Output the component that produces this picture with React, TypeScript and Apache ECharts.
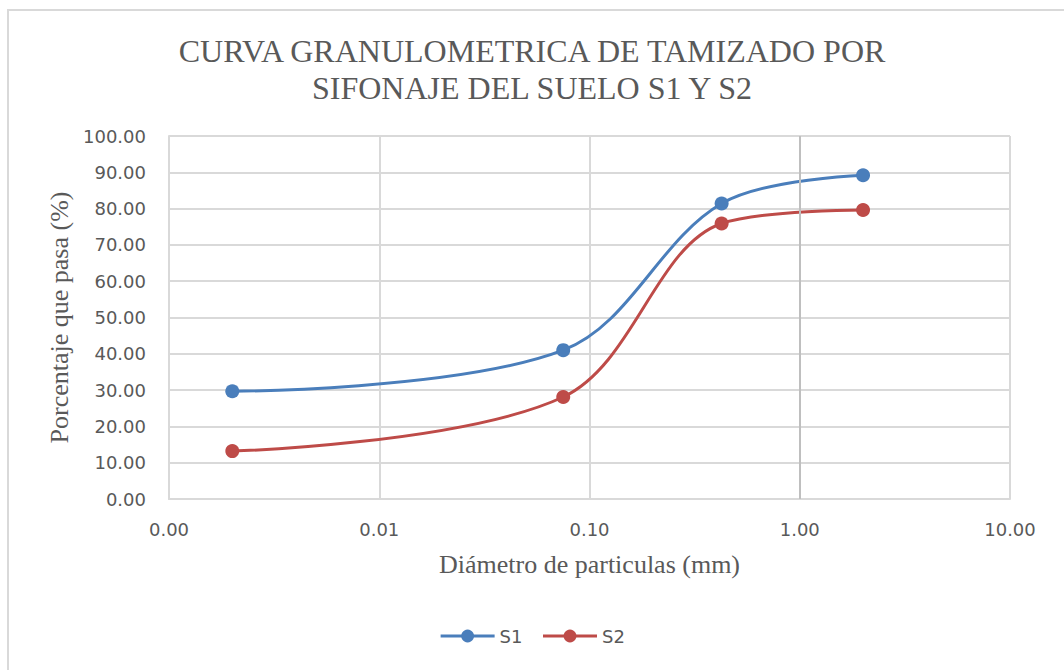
import React, { useEffect, useRef } from "react";
import * as echarts from "echarts";

const diameters = [0.002, 0.075, 0.425, 2.0];
const s1Values = [29.7, 41.0, 81.4, 89.2];
const s2Values = [13.2, 28.1, 75.9, 79.6];
const seriesNames = ["S1", "S2"];
const titleText = "CURVA GRANULOMETRICA DE TAMIZADO POR\nSIFONAJE DEL SUELO S1 Y S2";
const xName = "Diámetro de particulas (mm)";
const yName = "Porcentaje que pasa (%)";

export default function App() {
  const ref = useRef<HTMLDivElement>(null);
  useEffect(() => {
    if (!ref.current) return;
    const chart = echarts.init(ref.current, null, { renderer: "svg" });
    const tickFont = "DejaVu Sans";
    const serif = "Liberation Serif";
    chart.setOption({
      animation: false,
      backgroundColor: "#ffffff",
      title: {
        text: titleText,
        left: "center",
        top: 27,
        textStyle: {
          fontFamily: serif,
          fontSize: 32,
          fontWeight: "normal",
          color: "#595959",
          lineHeight: 37,
        },
      },
      graphic: [
        {
          type: "line",
          shape: { x1: 7, y1: 10, x2: 1064, y2: 10 },
          style: { stroke: "#d9d9d9", lineWidth: 2 },
        },
        {
          type: "line",
          shape: { x1: 8, y1: 10, x2: 8, y2: 670 },
          style: { stroke: "#d9d9d9", lineWidth: 2 },
        },
      ],
      grid: { left: 169, right: 54, top: 136, bottom: 171 },
      legend: {
        data: seriesNames,
        bottom: 20,
        left: "center",
        itemWidth: 54,
        itemHeight: 16,
        itemGap: 19,
        lineStyle: { width: 3 },
        textStyle: { fontFamily: tickFont, fontSize: 18, color: "#595959" },
      },
      xAxis: {
        type: "log",
        logBase: 10,
        min: 0.001,
        max: 10,
        name: xName,
        nameLocation: "middle",
        nameGap: 52,
        nameTextStyle: { fontFamily: serif, fontSize: 26, color: "#595959" },
        axisLine: { show: true, lineStyle: { color: "#d9d9d9", width: 2 } },
        axisTick: { show: false },
        axisLabel: {
          fontFamily: tickFont,
          fontSize: 18,
          color: "#595959",
          margin: 21,
          formatter: (v: number) => v.toFixed(2),
        },
        splitLine: { show: true, lineStyle: { color: "#d9d9d9", width: 2 } },
        minorTick: { show: false },
      },
      yAxis: {
        type: "value",
        min: 0,
        max: 100,
        interval: 10,
        name: yName,
        nameLocation: "middle",
        nameGap: 96,
        nameTextStyle: { fontFamily: serif, fontSize: 26, color: "#595959" },
        axisLine: { show: true, lineStyle: { color: "#d9d9d9", width: 2 } },
        axisTick: { show: false },
        axisLabel: {
          fontFamily: tickFont,
          fontSize: 18,
          color: "#595959",
          margin: 23,
          formatter: (v: number) => v.toFixed(2),
        },
        splitLine: { show: true, lineStyle: { color: "#d9d9d9", width: 2 } },
      },
      series: [
        {
          name: "grid1",
          type: "line",
          data: [],
          z: 1,
          silent: true,
          markLine: {
            silent: true,
            symbol: "none",
            label: { show: false },
            lineStyle: { color: "#bfbfbf", width: 2, type: "solid" },
            data: [{ xAxis: 1 }],
          },
        },
        {
          name: seriesNames[0],
          type: "line",
          z: 3,
          smooth: 0.35,
          data: diameters.map((d, i) => [d, s1Values[i]]),
          symbol: "circle",
          symbolSize: 14,
          lineStyle: { color: "#4a7ebb", width: 3 },
          itemStyle: { color: "#4a7ebb" },
        },
        {
          name: seriesNames[1],
          type: "line",
          z: 3,
          smooth: 0.35,
          data: diameters.map((d, i) => [d, s2Values[i]]),
          symbol: "circle",
          symbolSize: 14,
          lineStyle: { color: "#be4b48", width: 3 },
          itemStyle: { color: "#be4b48" },
        },
      ],
    });
    return () => chart.dispose();
  }, []);
  return (
    <div
      ref={ref}
      style={{ position: "fixed", left: 0, top: 0, width: 1064, height: 670 }}
    />
  );
}
